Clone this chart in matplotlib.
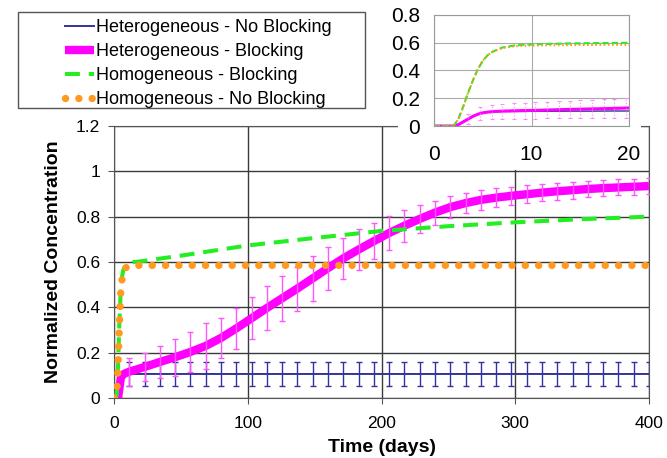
import matplotlib.pyplot as plt
from matplotlib.patches import Rectangle
from matplotlib.ticker import FuncFormatter

plt.rcParams['font.family'] = ['Liberation Sans', 'DejaVu Sans']

# ---- main plot data (days, normalized concentration) ----
het_t = [0, 3, 4, 5, 6, 8,
         11.4, 22.9, 34.3, 45.7, 57.1, 68.6, 80.0, 91.4, 102.9, 114.3,
         125.7, 137.1, 148.6, 160.0, 171.4, 182.9, 194.3, 205.7, 217.1, 228.6,
         240.0, 251.4, 262.9, 274.3, 285.7, 297.1, 308.6, 320.0, 331.4, 342.9,
         354.3, 365.7, 377.1, 388.6, 400.0]
het_noblock = [0, 0, 0.04, 0.08, 0.1, 0.105,
               0.106, 0.106, 0.106, 0.106, 0.106, 0.106, 0.106, 0.106, 0.106, 0.106,
               0.106, 0.106, 0.106, 0.106, 0.106, 0.106, 0.106, 0.106, 0.106, 0.106,
               0.106, 0.106, 0.106, 0.106, 0.106, 0.106, 0.106, 0.106, 0.106, 0.106,
               0.106, 0.106, 0.106, 0.106, 0.106]
het_block = [0, 0, 0.04, 0.085, 0.1, 0.108,
             0.116, 0.137, 0.159, 0.18, 0.203, 0.23, 0.265, 0.307, 0.352, 0.397,
             0.44, 0.483, 0.528, 0.573, 0.616, 0.655, 0.692, 0.728, 0.76, 0.79,
             0.818, 0.842, 0.86, 0.874, 0.884, 0.892, 0.899, 0.906, 0.912, 0.917,
             0.922, 0.926, 0.929, 0.932, 0.935]
# error bars start at the 7th point
err_noblock = [0.055] * 35
err_block = [0.062, 0.063, 0.071, 0.082, 0.09, 0.1, 0.09, 0.09, 0.093, 0.097,
             0.1, 0.097, 0.098, 0.095, 0.092, 0.09, 0.08, 0.075, 0.07, 0.06,
             0.053, 0.05, 0.046, 0.044, 0.042, 0.04, 0.039, 0.038, 0.037, 0.037,
             0.036, 0.036, 0.035, 0.035, 0.035]

hom_t = [0, 1, 2, 3, 4, 5, 6, 7, 8, 10, 12, 15, 20, 50, 100, 150, 200, 250, 300, 350, 400]
hom_block = [0, 0, 0.01, 0.14, 0.33, 0.47, 0.535, 0.565, 0.578, 0.588, 0.595, 0.6, 0.603,
             0.628, 0.673, 0.706, 0.737, 0.758, 0.775, 0.789, 0.8]
hom_noblock = [0, 0, 0.01, 0.13, 0.32, 0.46, 0.525, 0.555, 0.57, 0.58, 0.583, 0.585, 0.585,
               0.585, 0.585, 0.585, 0.585, 0.585, 0.585, 0.585, 0.585]

# ---- inset data (first 20 days) ----
in_t = [0, 1, 2, 2.5, 3, 3.5, 4, 4.5, 5, 5.5, 6, 7, 8, 9, 10, 12, 14, 16, 18, 20]
in_hom_block = [0, 0, 0, 0.05, 0.14, 0.24, 0.33, 0.41, 0.47, 0.51, 0.535, 0.565, 0.578,
                0.585, 0.588, 0.592, 0.595, 0.597, 0.598, 0.6]
in_hom_noblock = [0, 0, 0, 0.05, 0.14, 0.24, 0.33, 0.41, 0.47, 0.51, 0.535, 0.562, 0.573,
                  0.578, 0.58, 0.582, 0.583, 0.584, 0.585, 0.585]
in_het_block = [0, 0, 0, 0.01, 0.03, 0.05, 0.07, 0.085, 0.095, 0.1, 0.104, 0.107, 0.109,
                0.111, 0.112, 0.116, 0.12, 0.123, 0.126, 0.13]
in_het_noblock = [0, 0, 0, 0.01, 0.03, 0.05, 0.07, 0.085, 0.095, 0.1, 0.103, 0.105, 0.105,
                  0.105, 0.106, 0.106, 0.107, 0.107, 0.108, 0.108]
in_err_t = [3.5, 4.7, 5.9, 7.0, 8.2, 9.3, 10.4, 11.6, 12.8, 13.9, 15.0, 16.2, 17.4, 18.5, 19.7]
in_err_c = [0.05, 0.09, 0.103, 0.107, 0.109, 0.111, 0.113, 0.115, 0.117, 0.119,
            0.121, 0.123, 0.125, 0.127, 0.129]
in_err = [0.035, 0.045, 0.05, 0.055, 0.055, 0.058, 0.06, 0.06, 0.062, 0.063,
          0.065, 0.066, 0.067, 0.068, 0.07]

labels = ['Heterogeneous - No Blocking', 'Heterogeneous - Blocking',
          'Homogeneous - Blocking', 'Homogeneous - No Blocking']

BLUE = '#333399'
MAGENTA = '#ff00ff'
PINK = '#ff55ff'
GREEN = '#22ee22'
ORANGE = '#ff991f'

W, H = 667, 458
fig = plt.figure(figsize=(W / 100, H / 100), dpi=100)
ax = fig.add_axes([114 / W, 1 - 398 / H, (649 - 114) / W, (398 - 126) / H])

ax.plot(het_t, het_noblock, color=BLUE, lw=1.4, label=labels[0], zorder=3)
ax.errorbar(het_t[6:], het_noblock[6:], yerr=err_noblock, fmt='none', ecolor=BLUE,
            elinewidth=1, capsize=2.3, capthick=1, zorder=3)
ax.plot(het_t, het_block, color=MAGENTA, lw=6, label=labels[1], zorder=4,
        solid_capstyle='butt')
ax.errorbar(het_t[6:], het_block[6:], yerr=err_block, fmt='none', ecolor=PINK,
            elinewidth=1, capsize=2.3, capthick=1, zorder=4)
ax.plot(hom_t, hom_block, color=GREEN, lw=2.9, ls=(0, (3.7, 2.2)), label=labels[2], zorder=5)
ax.plot(hom_t, hom_noblock, color=ORANGE, lw=5.3, ls=(0, (0.01, 1.8)),
        dash_capstyle='round', label=labels[3], zorder=6)

ax.set_xlim(0, 400)
ax.set_ylim(0, 1.2)
ax.set_xticks([0, 100, 200, 300, 400])
ax.set_yticks([0, 0.2, 0.4, 0.6, 0.8, 1.0, 1.2])
ax.yaxis.set_major_formatter(FuncFormatter(lambda v, p: '%g' % round(v, 2)))
ax.grid(color='#3a3a3a', lw=1.0)
for s in ax.spines.values():
    s.set_color('#555555')
ax.tick_params(labelsize=12.5, length=4, color='#555555')
ax.tick_params(axis='x', pad=9)
ax.tick_params(axis='y', pad=6)
ax.set_xlabel('Time (days)', fontsize=14, fontweight='bold', labelpad=6)
ax.set_ylabel('Normalized Concentration', fontsize=14, fontweight='bold', labelpad=10)

leg = ax.legend(loc='upper left', bbox_to_anchor=(50 / W, 1 - 4 / H),
                bbox_transform=fig.transFigure, frameon=False, fontsize=13,
                handlelength=1.6, handletextpad=0.1, labelspacing=0.38, borderpad=0.35)
fig.add_artist(Rectangle((18 / W, 1 - 108 / H), 347 / W, 96 / H, transform=fig.transFigure,
                         fill=False, edgecolor='#555555', lw=1))

# white area behind the inset
fig.add_artist(Rectangle((398 / W, 1 - 170 / H), 243 / W, 170 / H, transform=fig.transFigure,
                         facecolor='white', edgecolor='none', zorder=1))

ins = fig.add_axes([434 / W, 1 - 126 / H, (629 - 434) / W, (126 - 15) / H], zorder=2)
ins.plot(in_t, in_het_noblock, color=BLUE, lw=1)
ins.plot(in_t, in_het_block, color=MAGENTA, lw=2.2)
eb = ins.errorbar(in_err_t, in_err_c, yerr=in_err, fmt='none', ecolor='#ff88ff',
                  elinewidth=0.8, capsize=1.2, capthick=0.8)
eb[2][0].set_linestyle(':')
ins.plot(in_t, in_hom_block, color=GREEN, lw=1.5, ls=(0, (3, 1.5)))
ins.plot(in_t, in_hom_noblock, color=ORANGE, lw=1.5, ls=(0, (0.8, 1.2)))
ins.set_xlim(0, 20)
ins.set_ylim(0, 0.8)
ins.set_xticks([0, 10, 20])
ins.set_yticks([0, 0.2, 0.4, 0.6, 0.8])
ins.yaxis.set_major_formatter(FuncFormatter(lambda v, p: '%g' % round(v, 2)))
ins.grid(color='#aaaaaa', lw=0.8)
for s in ins.spines.values():
    s.set_color('#999999')
ins.tick_params(labelsize=15, length=0)
ins.tick_params(axis='x', pad=14)
ins.tick_params(axis='y', pad=10)

fig.savefig('out.png', dpi=100)
